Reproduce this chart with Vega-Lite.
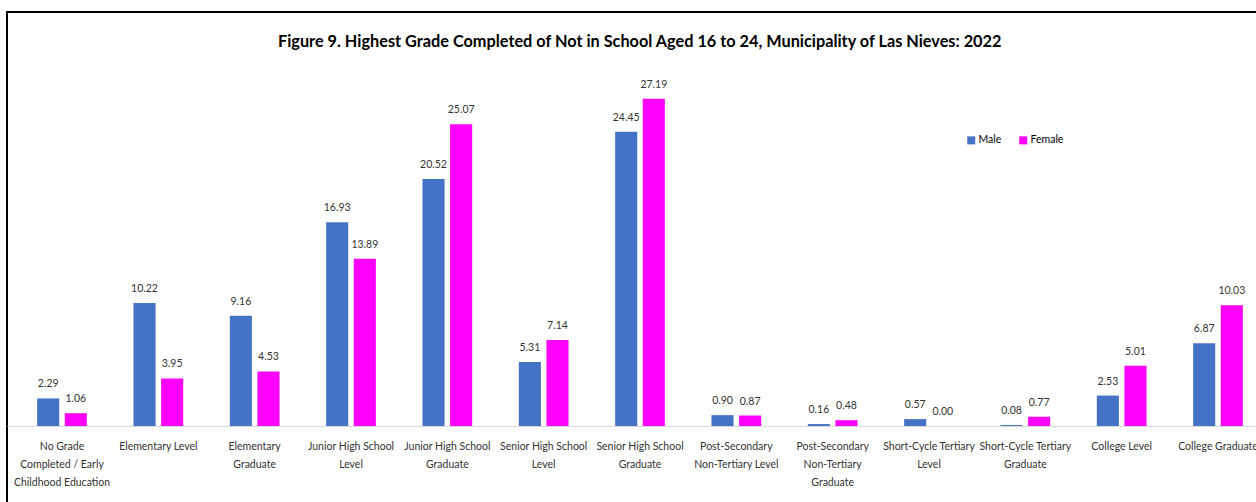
{
  "$schema": "https://vega.github.io/schema/vega-lite/v6.json",
  "autosize": {"type": "none"},
  "padding": {"left": 7, "top": 12, "right": 0, "bottom": 0},
  "width": 1266,
  "height": 500,
  "background": "white",
  "title": {
    "text": "Figure 9. Highest Grade Completed of Not in School Aged 16 to 24, Municipality of Las Nieves: 2022",
    "font": "Lato",
    "fontSize": 16.3,
    "fontWeight": "bold",
    "color": "#000000",
    "anchor": "start",
    "frame": "group",
    "dx": 271,
    "offset": -38
  },
  "config": {
    "view": {"stroke": "#000000", "strokeWidth": 2},
    "text": {"font": "Lato"}
  },
  "data": {
    "values": [
      {"grade": "No Grade Completed / Early Childhood Education", "sex": "Male", "pct": 2.29},
      {"grade": "No Grade Completed / Early Childhood Education", "sex": "Female", "pct": 1.06},
      {"grade": "Elementary Level", "sex": "Male", "pct": 10.22},
      {"grade": "Elementary Level", "sex": "Female", "pct": 3.95},
      {"grade": "Elementary Graduate", "sex": "Male", "pct": 9.16},
      {"grade": "Elementary Graduate", "sex": "Female", "pct": 4.53},
      {"grade": "Junior High School Level", "sex": "Male", "pct": 16.93},
      {"grade": "Junior High School Level", "sex": "Female", "pct": 13.89},
      {"grade": "Junior High School Graduate", "sex": "Male", "pct": 20.52},
      {"grade": "Junior High School Graduate", "sex": "Female", "pct": 25.07},
      {"grade": "Senior High School Level", "sex": "Male", "pct": 5.31},
      {"grade": "Senior High School Level", "sex": "Female", "pct": 7.14},
      {"grade": "Senior High School Graduate", "sex": "Male", "pct": 24.45},
      {"grade": "Senior High School Graduate", "sex": "Female", "pct": 27.19},
      {"grade": "Post-Secondary Non-Tertiary Level", "sex": "Male", "pct": 0.90},
      {"grade": "Post-Secondary Non-Tertiary Level", "sex": "Female", "pct": 0.87},
      {"grade": "Post-Secondary Non-Tertiary Graduate", "sex": "Male", "pct": 0.16},
      {"grade": "Post-Secondary Non-Tertiary Graduate", "sex": "Female", "pct": 0.48},
      {"grade": "Short-Cycle Tertiary Level", "sex": "Male", "pct": 0.57},
      {"grade": "Short-Cycle Tertiary Level", "sex": "Female", "pct": 0.00},
      {"grade": "Short-Cycle Tertiary Graduate", "sex": "Male", "pct": 0.08},
      {"grade": "Short-Cycle Tertiary Graduate", "sex": "Female", "pct": 0.77},
      {"grade": "College Level", "sex": "Male", "pct": 2.53},
      {"grade": "College Level", "sex": "Female", "pct": 5.01},
      {"grade": "College Graduate", "sex": "Male", "pct": 6.87},
      {"grade": "College Graduate", "sex": "Female", "pct": 10.03}
    ]
  },
  "encoding": {
    "x": {
      "field": "grade",
      "type": "nominal",
      "sort": null,
      "scale": {"paddingInner": 0.484, "paddingOuter": 0.313},
      "axis": {
        "title": null,
        "offset": -86,
        "labelAngle": 0,
        "labelFont": "Lato",
        "labelFontSize": 10.5,
        "labelColor": "#333333",
        "labelPadding": 15,
        "labelLineHeight": 18,
        "labelLimit": 200,
        "ticks": false,
        "domainColor": "#d9d9d9",
        "domainWidth": 1,
        "grid": false,
        "labelExpr": "datum.label == 'No Grade Completed / Early Childhood Education' ? ['No Grade', 'Completed / Early', 'Childhood Education'] : datum.label == 'Elementary Graduate' ? ['Elementary', 'Graduate'] : datum.label == 'Junior High School Level' ? ['Junior High School', 'Level'] : datum.label == 'Junior High School Graduate' ? ['Junior High School', 'Graduate'] : datum.label == 'Senior High School Level' ? ['Senior High School', 'Level'] : datum.label == 'Senior High School Graduate' ? ['Senior High School', 'Graduate'] : datum.label == 'Post-Secondary Non-Tertiary Level' ? ['Post-Secondary', 'Non-Tertiary Level'] : datum.label == 'Post-Secondary Non-Tertiary Graduate' ? ['Post-Secondary', 'Non-Tertiary', 'Graduate'] : datum.label == 'Short-Cycle Tertiary Level' ? ['Short-Cycle Tertiary', 'Level'] : datum.label == 'Short-Cycle Tertiary Graduate' ? ['Short-Cycle Tertiary', 'Graduate'] : datum.label"
      }
    },
    "xOffset": {
      "field": "sex",
      "type": "nominal",
      "sort": ["Male", "Female"],
      "scale": {"paddingInner": 0.2}
    },
    "y": {
      "field": "pct",
      "type": "quantitative",
      "scale": {"domain": [-7.15, 34.41], "nice": false},
      "axis": null
    }
  },
  "layer": [
    {
      "mark": {"type": "bar"},
      "encoding": {
        "color": {
          "field": "sex",
          "type": "nominal",
          "sort": ["Male", "Female"],
          "scale": {"domain": ["Male", "Female"], "range": ["#4472C4", "#FF00FF"]},
          "legend": {
            "title": null,
            "orient": "none",
            "legendX": 959,
            "legendY": 123,
            "direction": "horizontal",
            "symbolType": "square",
            "symbolSize": 64,
            "symbolStrokeWidth": 0,
            "labelFont": "Lato",
            "labelFontSize": 10.5,
            "labelColor": "#000000",
            "labelOffset": 2,
            "columnPadding": 16
          }
        }
      }
    },
    {
      "mark": {"type": "text", "baseline": "alphabetic", "dy": -11, "fontSize": 10.5, "color": "#333333"},
      "encoding": {
        "text": {"field": "pct", "type": "quantitative", "format": ".2f"}
      }
    }
  ]
}
